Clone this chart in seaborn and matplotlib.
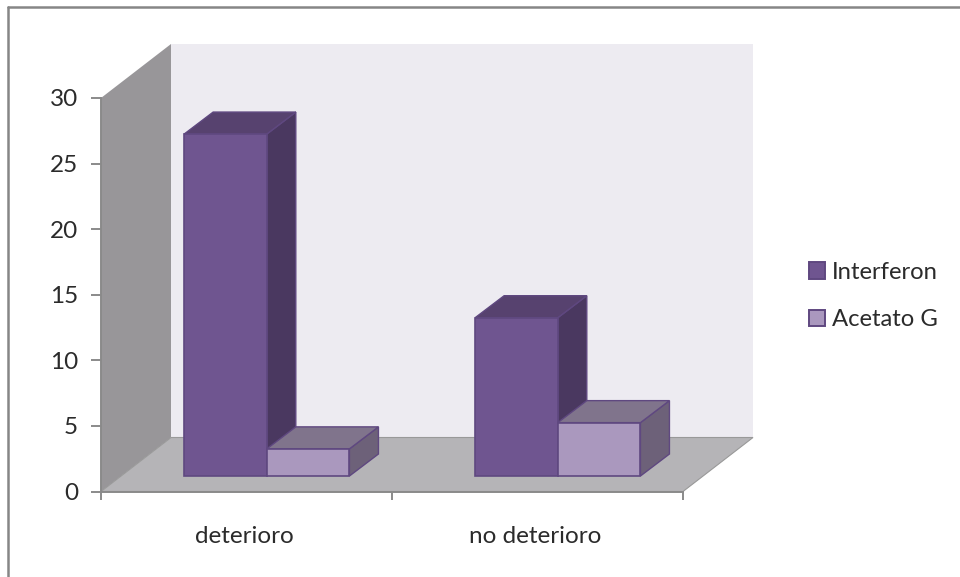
import matplotlib
matplotlib.use("Agg")
import matplotlib.pyplot as plt
from matplotlib.lines import Line2D
from matplotlib.patches import Rectangle
from matplotlib.transforms import ScaledTranslation
import pandas as pd
import seaborn as sns

categories = ["deterioro", "no deterioro"]
interferon = [27, 13]
acetato = [3, 5]
series_names = ["Interferon", "Acetato G"]
y_ticks = [0, 5, 10, 15, 20, 25, 30]

FRONT = ["#6F5590", "#AA98BE"]
SIDE = ["#4A3860", "#6D6179"]
TOP = ["#57426F", "#80748C"]
EDGE = "#5F4880"
AXIS_GREY = "#8A8A8A"
TEXT = "#2B2B2B"

W, H = 960, 577
AX_L, AX_R, AX_T, AX_B = 101, 683, 98, 491.5
X_PER_PX = 2.0 / (AX_R - AX_L)
Y_PER_PX = 30.0 / (AX_B - AX_T)


def depth(px_x, px_y):
    """Convert a screen-space depth offset to data units."""
    return px_x * X_PER_PX, px_y * Y_PER_PX


sns.set_theme(style="white")
plt.rcParams["font.family"] = ["Lato", "DejaVu Sans"]

df = pd.DataFrame({
    "categoria": categories * 2,
    "valor": interferon + acetato,
    "serie": [series_names[0]] * 2 + [series_names[1]] * 2,
})

fig = plt.figure(figsize=(W / 100, H / 100), dpi=100, facecolor="white")
ax = fig.add_axes([AX_L / W, 1 - AX_B / H, (AX_R - AX_L) / W, (AX_B - AX_T) / H])
ax.patch.set_visible(False)

sns.barplot(data=df, x="categoria", y="valor", hue="serie", hue_order=series_names,
            palette=FRONT, width=0.568, gap=0, edgecolor=EDGE, linewidth=1.2,
            saturation=1, ax=ax, legend=False)
ax.set_xlim(-0.5, 1.5)
ax.set_ylim(0, 30)
bars = list(ax.patches)

# Room shell: floor, back wall and left wall
wx, wy = depth(70, 54)
x0, x1 = -0.5, 1.5
ax.fill([x0 + wx, x1 + wx, x1 + wx, x0 + wx], [wy, wy, 30 + wy, 30 + wy],
        color="#EDEBF1", lw=0, clip_on=False, zorder=0.5)
ax.fill([x0, x0 + wx, x0 + wx, x0], [0, wy, 30 + wy, 30],
        color="#989699", lw=0, clip_on=False, zorder=0.6)
ax.fill([x0, x1, x1 + wx, x0 + wx], [0, 0, wy, wy],
        facecolor="#B5B4B7", edgecolor="#999999", lw=0.8, clip_on=False, zorder=0.7)

# Extrude each seaborn bar into a box resting on the floor
shift_x, base_y = depth(20.3, 15.5)
bar_dx, bar_dy = depth(29, 22)
top_lift = 0.25
n_cat = len(categories)
for i, bar in enumerate(bars):
    hue_i = i // n_cat
    cat_i = i % n_cat
    order = 2 + cat_i * 2 + hue_i
    value = bar.get_height()
    left = bar.get_x() + shift_x
    right = left + bar.get_width()
    top = value + top_lift
    bar.set_x(left)
    bar.set_y(base_y)
    bar.set_height(top - base_y)
    bar.set_zorder(order + 0.2)
    bar.set_joinstyle("miter")
    bar.set_clip_on(False)
    ax.fill([right, right + bar_dx, right + bar_dx, right],
            [base_y, base_y + bar_dy, top + bar_dy, top],
            facecolor=SIDE[hue_i], edgecolor=EDGE, lw=1.0, clip_on=False, zorder=order)
    ax.fill([left, right, right + bar_dx, left + bar_dx],
            [top, top, top + bar_dy, top + bar_dy],
            facecolor=TOP[hue_i], edgecolor=EDGE, lw=1.0, clip_on=False, zorder=order + 0.1)

# Axes and ticks
sns.despine(ax=ax, top=True, right=True)
for side in ("left", "bottom"):
    ax.spines[side].set_color(AXIS_GREY)
    ax.spines[side].set_linewidth(1.4)
    ax.spines[side].set_zorder(1)
ax.set_xlabel("")
ax.set_ylabel("")
ax.set_yticks(y_ticks)
ax.set_xticks([0, 1])
ax.set_xticks([-0.5, 0.5, 1.5], minor=True)
ax.set_xticklabels(categories)
ax.tick_params(axis="y", which="major", left=True, length=7, width=1.4, color=AXIS_GREY,
               labelsize=17.5, labelcolor=TEXT, pad=9.5)
ax.tick_params(axis="x", which="major", bottom=False, length=0, labelsize=17.5,
               labelcolor=TEXT, pad=24.5)
ax.tick_params(axis="x", which="minor", bottom=True, length=6, width=1.4, color=AXIS_GREY)
for label in ax.get_xticklabels():
    label.set_transform(label.get_transform() + ScaledTranslation(-2 / 100, 0, fig.dpi_scale_trans))

# Legend
handles = [Rectangle((0, 0), 1, 1, facecolor=FRONT[i], edgecolor=EDGE, lw=1.4) for i in range(2)]
fig.legend(handles, series_names, loc="center left", bbox_to_anchor=(802 / W, 1 - 296 / H),
           frameon=False, fontsize=17.2, labelcolor=TEXT, handlelength=0.68, handleheight=0.68,
           handletextpad=0.28, labelspacing=1.1, borderpad=0.3, borderaxespad=0)

# Chart frame: only its top and left edges fall inside the canvas
frame_kw = dict(transform=fig.transFigure, color="#868686", lw=1.8)
fig.add_artist(Line2D([8 / W, 1], [1 - 7 / H, 1 - 7 / H], **frame_kw))
fig.add_artist(Line2D([8 / W, 8 / W], [0, 1 - 7 / H], **frame_kw))

fig.savefig("out.png", dpi=100)
